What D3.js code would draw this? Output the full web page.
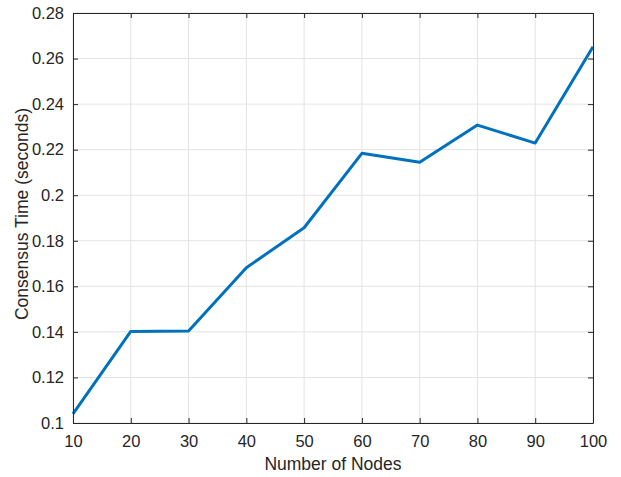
<!DOCTYPE html>
<html><head><meta charset="utf-8">
<script src="https://cdn.jsdelivr.net/npm/d3@7"></script>
<style>body{margin:0;background:#fff}svg{display:block}</style>
</head><body>
<script>
const nodes = [10,20,30,40,50,60,70,80,90,100];
const consensusTime = [0.104,0.1402,0.1404,0.1682,0.1857,0.2184,0.2145,0.2308,0.2229,0.2652];
const xTicks = [10,20,30,40,50,60,70,80,90,100];
const yTicks = [0.1,0.12,0.14,0.16,0.18,0.2,0.22,0.24,0.26,0.28];

const W=621,H=477;
const m={l:73,r:28,t:13,b:54};
const svg=d3.select("body").append("svg").attr("width",W).attr("height",H);
const iw=W-m.l-m.r, ih=H-m.t-m.b;
const x=d3.scaleLinear().domain([10,100]).range([m.l,m.l+iw]);
const y=d3.scaleLinear().domain([0.1,0.28]).range([m.t+ih,m.t]);
const font="'Liberation Sans', Arial, sans-serif";
const axc="#262626";

const g=svg.append("g");
g.selectAll(".gx").data(xTicks).enter().append("line")
 .attr("x1",d=>x(d)).attr("x2",d=>x(d)).attr("y1",m.t).attr("y2",m.t+ih)
 .attr("stroke","#e3e3e3").attr("stroke-width",1);
g.selectAll(".gy").data(yTicks).enter().append("line")
 .attr("y1",d=>y(d)).attr("y2",d=>y(d)).attr("x1",m.l).attr("x2",m.l+iw)
 .attr("stroke","#e3e3e3").attr("stroke-width",1);

const line=d3.line().x((d,i)=>x(nodes[i])).y(d=>y(d));
svg.append("path").datum(consensusTime).attr("d",line).attr("fill","none")
 .attr("stroke","#0072BD").attr("stroke-width",3).attr("stroke-linejoin","round");

const fmt=d=>String(+d.toFixed(2));
const ax=svg.append("g").attr("transform",`translate(0,${m.t+ih})`)
 .call(d3.axisBottom(x).tickValues(xTicks).tickSizeInner(-5).tickSizeOuter(0).tickPadding(12));
const axT=svg.append("g").attr("transform",`translate(0,${m.t})`)
 .call(d3.axisTop(x).tickValues(xTicks).tickSizeInner(-5).tickSizeOuter(0).tickFormat(""));
const ay=svg.append("g").attr("transform",`translate(${m.l},0)`)
 .call(d3.axisLeft(y).tickValues(yTicks).tickSizeInner(-5).tickSizeOuter(0).tickPadding(9).tickFormat(fmt));
const ayR=svg.append("g").attr("transform",`translate(${m.l+iw},0)`)
 .call(d3.axisRight(y).tickValues(yTicks).tickSizeInner(-5).tickSizeOuter(0).tickFormat(""));
[ax,axT,ay,ayR].forEach(a=>{
  a.selectAll("path").attr("stroke",axc).attr("stroke-width",1);
  a.selectAll("line").attr("stroke",axc);
  a.selectAll("text").attr("fill",axc).style("font-family",font).style("font-size","16.5px");
});

svg.append("text").attr("x",m.l+iw/2).attr("y",470).attr("text-anchor","middle")
 .style("font-family",font).style("font-size","17.5px").attr("fill",axc).text("Number of Nodes");
svg.append("text").attr("transform",`translate(28,214) rotate(-90)`).attr("text-anchor","middle")
 .style("font-family",font).style("font-size","17.5px").attr("fill",axc).text("Consensus Time (seconds)");
</script>
</body></html>
